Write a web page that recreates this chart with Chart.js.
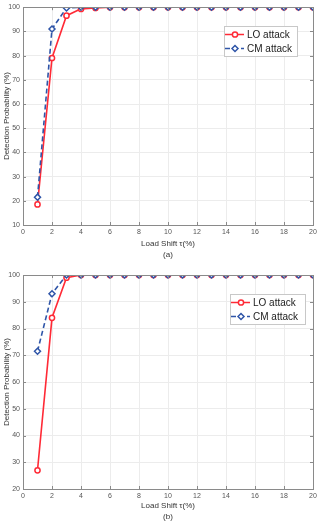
<!DOCTYPE html>
<html>
<head>
<meta charset="utf-8">
<script src="https://cdn.jsdelivr.net/npm/chart.js@4/dist/chart.umd.min.js"></script>
<style>
html,body{margin:0;padding:0;background:#fff;width:320px;height:522px;overflow:hidden}
.box{position:absolute;left:0;width:320px}
</style>
</head>
<body>
<div class="box" style="top:0;height:260px"><canvas id="chartA"></canvas></div>
<div class="box" style="top:260px;height:262px"><canvas id="chartB"></canvas></div>
<script>
// load shift (%) values
let shiftVals = [1,2,3,4,5,6,7,8,9,10,11,12,13,14,15,16,17,18,19,20];

// (a)
let loA = [18.5,79,96.5,99.3,99.7,100,100,100,100,100,100,100,100,100,100,100,100,100,100,100];
let cmA = [21.5,91,99.7,100,100,100,100,100,100,100,100,100,100,100,100,100,100,100,100,100];

// (b)
let loB = [27,84,99,100,100,100,100,100,100,100,100,100,100,100,100,100,100,100,100,100];
let cmB = [71.5,93,100,100,100,100,100,100,100,100,100,100,100,100,100,100,100,100,100,100];

let seriesNames = ["LO attack","CM attack"];
let xTicks = [0,2,4,6,8,10,12,14,16,18,20];

const RED = "#ff2a36";
const BLUE = "#2f55a8";
const FONT = "'Liberation Sans', Arial, sans-serif";

function toXY(vals){
    return vals.map((v,i)=>({x: shiftVals[i], y: v}));
}

// matlab style box + inward ticks
const boxPlugin = {
    id: "boxPlugin",
    afterDatasetsDraw(chart){
        const ctx = chart.ctx, a = chart.chartArea;
        const xs = chart.scales.x, ys = chart.scales.y;
        ctx.save();
        ctx.strokeStyle = "#8a8a8a";
        ctx.lineWidth = 1;
        ctx.beginPath();
        xs.ticks.forEach(t=>{
            let px = Math.round(xs.getPixelForValue(t.value))+0.5;
            ctx.moveTo(px, a.bottom); ctx.lineTo(px, a.bottom-3);
            ctx.moveTo(px, a.top); ctx.lineTo(px, a.top+3);
        });
        ys.ticks.forEach(t=>{
            let py = Math.round(ys.getPixelForValue(t.value))+0.5;
            ctx.moveTo(a.left, py); ctx.lineTo(a.left+3, py);
            ctx.moveTo(a.right, py); ctx.lineTo(a.right-3, py);
        });
        ctx.stroke();
        ctx.strokeRect(Math.round(a.left)+0.5, Math.round(a.top)+0.5, Math.round(a.right-a.left), Math.round(a.bottom-a.top));
        ctx.restore();
    }
};

// legend box inside plot area
const boxLegend = {
    id: "boxLegend",
    afterDraw(chart, args, opts){
        const ctx = chart.ctx;
        const x = opts.x, y = opts.y, w = opts.w, h = opts.h;
        ctx.save();
        ctx.fillStyle = "#fff";
        ctx.fillRect(x, y, w, h);
        ctx.strokeStyle = "#c8c8c8";
        ctx.lineWidth = 1;
        ctx.strokeRect(x+0.5, y+0.5, w, h);
        ctx.font = "10px " + FONT;
        ctx.textBaseline = "middle";
        chart.data.datasets.forEach((ds, i)=>{
            let ry = y + 8.5 + i*14;
            ctx.strokeStyle = ds.borderColor;
            ctx.lineWidth = 1.5;
            ctx.setLineDash(ds.borderDash || []);
            ctx.beginPath();
            ctx.moveTo(x+1, ry); ctx.lineTo(x+20, ry);
            ctx.stroke();
            ctx.setLineDash([]);
            ctx.fillStyle = "#fff";
            ctx.strokeStyle = ds.borderColor;
            Chart.helpers.drawPoint(ctx, {
                pointStyle: ds.pointStyle, radius: ds.pointRadius, borderWidth: 1.5
            }, x+11, ry);
            ctx.fillStyle = "#222";
            ctx.fillText(ds.label, x+23, ry+0.5);
        });
        ctx.restore();
    }
};

function makeChart(id, lo, cm, yMin, yTicks, topPad, xHeight, caption, legendPos){
    const ctx = document.getElementById(id).getContext("2d");
    return new Chart(ctx, {
        type: "line",
        data: {
            datasets: [
                {
                    label: seriesNames[0],
                    data: toXY(lo),
                    borderColor: RED,
                    backgroundColor: "#fff",
                    borderWidth: 1.6,
                    pointStyle: "circle",
                    pointRadius: 2.6,
                    pointBorderWidth: 1.5,
                    pointBackgroundColor: "#fff",
                    pointBorderColor: RED,
                    order: 2
                },
                {
                    label: seriesNames[1],
                    data: toXY(cm),
                    borderColor: BLUE,
                    backgroundColor: "#fff",
                    borderWidth: 1.6,
                    borderDash: [5,3],
                    pointStyle: "rectRot",
                    pointRadius: 3,
                    pointBorderWidth: 1.5,
                    pointBackgroundColor: "#fff",
                    pointBorderColor: BLUE,
                    order: 1
                }
            ]
        },
        options: {
            responsive: true,
            maintainAspectRatio: false,
            animation: false,
            layout: { padding: { top: topPad, right: 7, left: 2, bottom: 0 } },
            plugins: {
                legend: { display: false },
                tooltip: { enabled: false },
                boxLegend: legendPos
            },
            scales: {
                x: {
                    type: "linear",
                    min: 0, max: 20,
                    afterBuildTicks: (s)=>{ s.ticks = xTicks.map(v=>({value: v})); },
                    afterFit: (s)=>{ s.height = xHeight; },
                    grid: { color: "#ececec", drawTicks: false },
                    border: { display: false },
                    ticks: { padding: 3, color: "#555", font: { family: FONT, size: 7 }, maxRotation: 0 },
                    title: {
                        display: true,
                        text: ["Load Shift \u03c4(%)", caption],
                        color: "#333",
                        font: { family: FONT, size: 8, lineHeight: 1.35 },
                        padding: { top: 0, bottom: 0 }
                    }
                },
                y: {
                    min: yMin, max: 100,
                    afterBuildTicks: (s)=>{ s.ticks = yTicks.map(v=>({value: v})); },
                    afterFit: (s)=>{ s.width = 21; },
                    grid: { color: "#ececec", drawTicks: false },
                    border: { display: false },
                    ticks: { padding: 3, color: "#555", font: { family: FONT, size: 7 } },
                    title: {
                        display: true,
                        text: "Detection Probability (%)",
                        color: "#333",
                        font: { family: FONT, size: 8 },
                        padding: { top: 0, bottom: 0 }
                    }
                }
            }
        },
        plugins: [boxPlugin, boxLegend]
    });
}

let chartA = makeChart("chartA", loA, cmA, 10, [10,20,30,40,50,60,70,80,90,100], 5, 35, "(a)",
    { x: 224, y: 26, w: 73, h: 30 });
let chartB = makeChart("chartB", loB, cmB, 20, [20,30,40,50,60,70,80,90,100], 15, 33, "(b)",
    { x: 230, y: 34, w: 75, h: 30 });
</script>
</body>
</html>
